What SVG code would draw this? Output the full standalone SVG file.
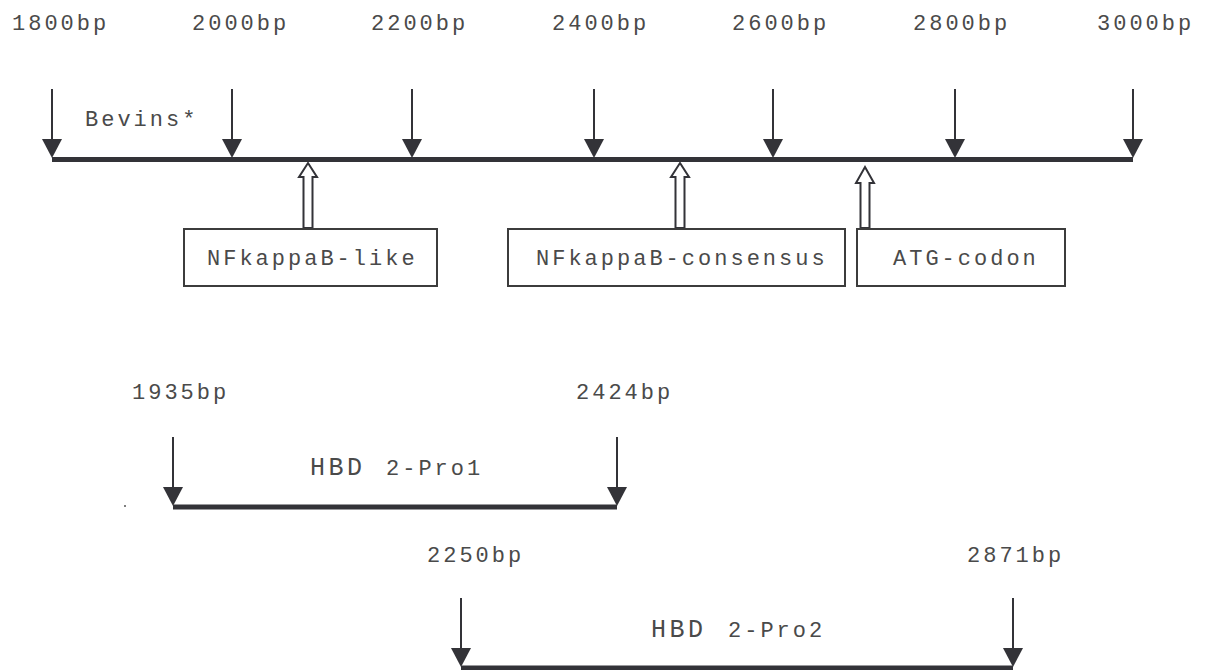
<svg xmlns="http://www.w3.org/2000/svg" width="1205" height="670" viewBox="0 0 1205 670">
<style>
text{font-family:"Liberation Mono","DejaVu Sans Mono",monospace;font-size:22px;fill:#4a4a4a;letter-spacing:3px}
.big{font-size:25px;letter-spacing:3.5px}
.ln{stroke:#333338;stroke-width:2;fill:none}
.bar{stroke:#333338;stroke-width:5;fill:none}
.head{fill:#333338}
.box{fill:#fff;stroke:#3c3c3c;stroke-width:2}
.hollow{fill:#fff;stroke:#333338;stroke-width:2;stroke-linejoin:miter}
</style>
<defs>
<path id="dn" class="head" d="M-10,-19 L10,-19 L0,0 Z"/>
</defs>
<rect width="1205" height="670" fill="#fff"/>
<g id="scale-labels">
<text x="12" y="30">1800bp</text>
<text x="192" y="30">2000bp</text>
<text x="371" y="30">2200bp</text>
<text x="552" y="30">2400bp</text>
<text x="732" y="30">2600bp</text>
<text x="913" y="30">2800bp</text>
<text x="1097" y="30">3000bp</text>
<text x="85" y="126">Bevins*</text>
</g>
<g id="connectors">
<line class="bar" x1="52" y1="159.5" x2="1133" y2="159.5"/>
<g class="ticks">
<line class="ln" x1="52" y1="89" x2="52" y2="145"/><use href="#dn" x="52" y="158"/>
<line class="ln" x1="232" y1="89" x2="232" y2="145"/><use href="#dn" x="232" y="158"/>
<line class="ln" x1="412" y1="89" x2="412" y2="145"/><use href="#dn" x="412" y="158"/>
<line class="ln" x1="594" y1="89" x2="594" y2="145"/><use href="#dn" x="594" y="158"/>
<line class="ln" x1="773" y1="89" x2="773" y2="145"/><use href="#dn" x="773" y="158"/>
<line class="ln" x1="955" y1="89" x2="955" y2="145"/><use href="#dn" x="955" y="158"/>
<line class="ln" x1="1133" y1="89" x2="1133" y2="145"/><use href="#dn" x="1133" y="158"/>
</g>
<polygon class="hollow" points="308,163 317,177 312.5,177 312.5,228 303.5,228 303.5,177 299,177"/>
<polygon class="hollow" points="680,163 689,177 684.5,177 684.5,228 675.5,228 675.5,177 671,177"/>
<polygon class="hollow" points="865,167 874,183 869.5,183 869.5,228 860.5,228 860.5,183 856,183"/>
<line class="bar" x1="173" y1="507" x2="617" y2="507"/>
<line class="ln" x1="173" y1="437" x2="173" y2="490"/><use href="#dn" x="173" y="506"/>
<line class="ln" x1="617" y1="437" x2="617" y2="490"/><use href="#dn" x="617" y="506"/>
<line class="bar" x1="461" y1="668" x2="1013" y2="668"/>
<line class="ln" x1="461" y1="598" x2="461" y2="652"/><use href="#dn" x="461" y="667"/>
<line class="ln" x1="1013" y1="598" x2="1013" y2="652"/><use href="#dn" x="1013" y="667"/>
</g>
<g id="node-nfkb-like">
<rect class="box" x="184" y="229" width="253" height="57"/>
<text x="207" y="265">NFkappaB-like</text>
</g>
<g id="node-nfkb-consensus">
<rect class="box" x="508" y="229" width="337" height="57"/>
<text x="536" y="265">NFkappaB-consensus</text>
</g>
<g id="node-atg">
<rect class="box" x="857" y="229" width="208" height="57"/>
<text x="893" y="265">ATG-codon</text>
</g>
<g id="hbd-pro1">
<text x="132" y="399">1935bp</text>
<text x="576" y="399">2424bp</text>
<text class="big" x="310" y="475">HBD</text>
<text x="386" y="475">2-Pro1</text>
<circle cx="125" cy="506" r="1" fill="#555"/>
</g>
<g id="hbd-pro2">
<text x="427" y="562">2250bp</text>
<text x="967" y="562">2871bp</text>
<text class="big" x="651" y="637">HBD</text>
<text x="728" y="637">2-Pro2</text>
</g>
</svg>
